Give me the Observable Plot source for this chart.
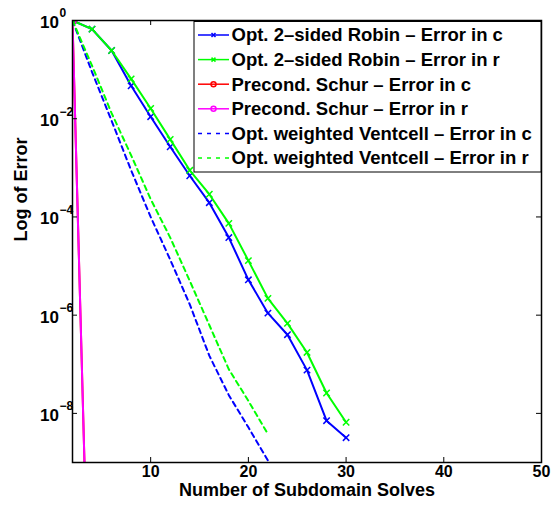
<!DOCTYPE html>
<html><head><meta charset="utf-8">
<script src="https://cdn.jsdelivr.net/npm/d3@7"></script>
<script src="https://cdn.jsdelivr.net/npm/@observablehq/plot@0.6"></script>
<style>body{margin:0;background:#fff} svg{display:block}</style>
</head><body><div id="chart"></div>
<script>
// ---- data ----
const xRobin = [2,4,6,8,10,12,14,16,18,20,22,24,26,28,30];
const robinC = [1,6.68e-1,2.45e-1,4.68e-2,1.1e-2,2.69e-3,6.9e-4,1.95e-4,3.8e-5,5.25e-6,1.1e-6,4.0e-7,7.6e-8,7.1e-9,3.2e-9];
const robinR = [1,6.68e-1,2.45e-1,6.46e-2,1.62e-2,3.8e-3,8.9e-4,2.9e-4,7.4e-5,1.29e-5,2.2e-6,6.8e-7,1.74e-7,2.6e-8,6.6e-9];
const xSchur = [2,4];
const schurC = [1,2e-15];
const schurR = [1,2e-15];
const xVent = [2,4,6,8,10,12,14,16,18,20,22];
const ventC = [1,8.9e-2,9.1e-3,8.9e-4,1.0e-4,1.35e-5,1.66e-6,1.5e-7,2.35e-8,5.2e-9,1.1e-9];
const ventR = [1,1.2e-1,1.3e-2,1.8e-3,2.3e-4,3.8e-5,5.0e-6,6.3e-7,7.9e-8,1.8e-8,3.8e-9];
const xTicks = [10,20,30,40,50];
const yTicks = [1,1e-2,1e-4,1e-6,1e-8];
const yTickExp = ["0","\u22122","\u22124","\u22126","\u22128"];
const seriesLabels = [
  "Opt. 2\u2013sided Robin \u2013 Error in c",
  "Opt. 2\u2013sided Robin \u2013 Error in r",
  "Precond. Schur \u2013 Error in c",
  "Precond. Schur \u2013 Error in r",
  "Opt. weighted Ventcell \u2013 Error in c",
  "Opt. weighted Ventcell \u2013 Error in r"
];
const seriesColors = ["#0000ff","#00ff00","#ff0000","#ff00ff","#0000ff","#00ff00"];
const seriesDashed = [false,false,false,false,true,true];
const seriesMarker = ["times","times","circle","circle",null,null];
const xLabel = "Number of Subdomain Solves";
const yLabel = "Log of Error";

// ---- layout ----
const W = 552, H = 506, mL = 72, mR = 11, mT = 20, mB = 44;
const pw = W - mL - mR, ph = H - mT - mB;
const FONT = "'Liberation Sans', Arial, Helvetica, sans-serif";

const rows = (xs, ys) => xs.map((x, i) => ({x, y: ys[i]}));
const series = [
  rows(xRobin, robinC), rows(xRobin, robinR),
  rows(xSchur, schurC), rows(xSchur, schurR),
  rows(xVent, ventC), rows(xVent, ventR)
];

const marks = [];
series.forEach((data, i) => {
  marks.push(Plot.line(data, {
    x: "x", y: "y", stroke: seriesColors[i], strokeWidth: 2, clip: true,
    strokeDasharray: seriesDashed[i] ? "5,4" : null
  }));
  if (seriesMarker[i] === "times") {
    marks.push(Plot.dot(data, {x: "x", y: "y", symbol: "times", r: 3, stroke: seriesColors[i], strokeWidth: 1.5, clip: true}));
  } else if (seriesMarker[i] === "circle") {
    marks.push(Plot.dot(data, {x: "x", y: "y", symbol: "circle", r: 3.5, stroke: seriesColors[i], fill: "none", strokeWidth: 1.5, clip: true}));
  }
});

// ticks (inward, all four sides)
marks.push(Plot.tickX(xTicks, {x: d => d, insetTop: ph - 5, stroke: "black", strokeWidth: 1}));
marks.push(Plot.tickX(xTicks, {x: d => d, insetBottom: ph - 5, stroke: "black", strokeWidth: 1}));
marks.push(Plot.tickY(yTicks, {y: d => d, insetRight: pw - 5, stroke: "black", strokeWidth: 1}));
marks.push(Plot.tickY(yTicks, {y: d => d, insetLeft: pw - 5, stroke: "black", strokeWidth: 1}));
marks.push(Plot.frame({stroke: "black", strokeWidth: 1.5}));

// tick labels
marks.push(Plot.text(xTicks, {x: d => d, text: d => String(d), frameAnchor: "bottom", dy: 14, fontSize: 16, fontWeight: "bold", fill: "black"}));
marks.push(Plot.text(yTicks, {y: d => d, text: () => "10", frameAnchor: "left", textAnchor: "end", dx: -13.5, dy: 2, fontSize: 17, fontWeight: "bold", fill: "black"}));
marks.push(Plot.text(yTicks, {y: d => d, text: (d, i) => yTickExp[i], frameAnchor: "left", textAnchor: "start", dx: -13, dy: -7, fontSize: 12, fontWeight: "bold", fill: "black"}));

// axis labels
marks.push(Plot.text([xLabel], {text: d => d, frameAnchor: "bottom", dy: 33.5, fontSize: 18, fontWeight: "bold", fill: "black"}));
marks.push(Plot.text([yLabel], {text: d => d, frameAnchor: "left", dx: -51, rotate: -90, fontSize: 18, fontWeight: "bold", fill: "black"}));

const plot = Plot.plot({
  width: W, height: H,
  marginLeft: mL, marginRight: mR, marginTop: mT, marginBottom: mB,
  x: {domain: [2, 50], axis: null},
  y: {type: "log", domain: [1e-9, 1], axis: null},
  style: {fontFamily: FONT, background: "white", color: "black", overflow: "visible"},
  marks
});
document.getElementById("chart").appendChild(plot);

// ---- legend (drawn into the plot svg) ----
const svg = d3.select(plot);
const lx0 = 194, ly0 = 21.5, lx1 = W - mR, ly1 = 172;
const lg = svg.append("g").attr("font-family", FONT).attr("font-weight", "bold")
  .attr("font-size", 18.5).attr("text-anchor", "start");
lg.append("rect").attr("x", lx0).attr("y", ly0).attr("width", lx1 - lx0).attr("height", ly1 - ly0)
  .attr("fill", "white").attr("stroke", "black").attr("stroke-width", 1);
seriesLabels.forEach((lab, i) => {
  const yy = ly0 + 13.5 + i * 24.6;
  lg.append("line").attr("x1", 198).attr("x2", 229).attr("y1", yy).attr("y2", yy)
    .attr("stroke", seriesColors[i]).attr("stroke-width", 1.5)
    .attr("stroke-dasharray", seriesDashed[i] ? "4,5" : null);
  if (seriesMarker[i] === "times") {
    lg.append("path").attr("d", `M${213.5-2},${yy-2}L${213.5+2},${yy+2}M${213.5-2},${yy+2}L${213.5+2},${yy-2}`)
      .attr("stroke", seriesColors[i]).attr("stroke-width", 1.5);
  } else if (seriesMarker[i] === "circle") {
    lg.append("circle").attr("cx", 213.5).attr("cy", yy).attr("r", 2.5).attr("fill", "none")
      .attr("stroke", seriesColors[i]).attr("stroke-width", 1.5);
  }
  lg.append("text").attr("x", 231.5).attr("y", yy).attr("dy", "0.35em").attr("fill", "black")
    .attr("text-anchor", "start").text(lab);
});
</script>
</body></html>
